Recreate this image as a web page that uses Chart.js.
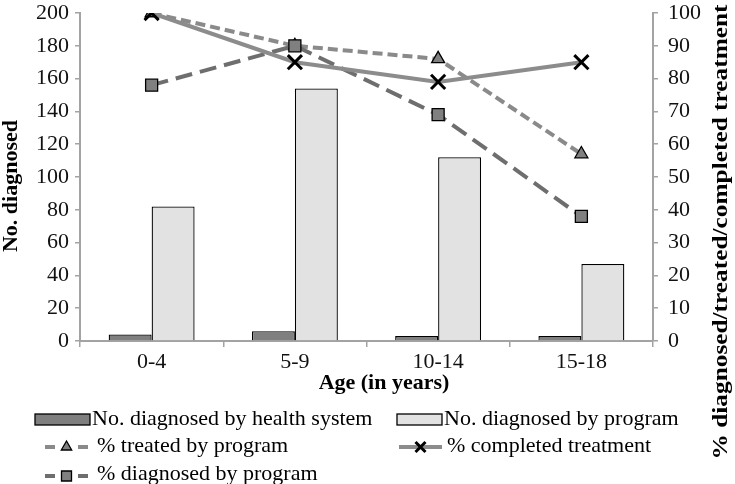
<!DOCTYPE html>
<html>
<head>
<meta charset="utf-8">
<script src="https://cdn.jsdelivr.net/npm/chart.js@4"></script>
<style>
html,body{margin:0;padding:0;background:#fff;}
#wrap{width:735px;height:484px;position:relative;}
</style>
</head>
<body>
<div id="wrap"><canvas id="c" width="735" height="484"></canvas></div>
<script>
const categories = ['0-4', '5-9', '10-14', '15-18'];
const diagnosedHealthSystem = [4, 6, 3, 3];
const diagnosedProgram = [82, 154, 112, 47];
const pctTreated = [100, 90, 86, 57];
const pctCompleted = [100, 85, 79, 85];
const pctDiagnosed = [78, 90, 69, 38];
const leftTicks = {min: 0, max: 200, step: 20};
const rightTicks = {min: 0, max: 100, step: 10};

const SERIF = '"Liberation Serif", "DejaVu Serif", serif';
const AXIS = '#a3a3a3';

const datasets = [
  {type:'bar', label:'No. diagnosed by health system', data: diagnosedHealthSystem, yAxisID:'y',
   backgroundColor:'#7f7f7f', borderColor:'#000', borderWidth:1.3, order:3,
   categoryPercentage:0.6, barPercentage:1.0},
  {type:'bar', label:'No. diagnosed by program', data: diagnosedProgram, yAxisID:'y',
   backgroundColor:'#e2e2e2', borderColor:'#000', borderWidth:1.3, order:3,
   categoryPercentage:0.6, barPercentage:1.0},
  {type:'line', label:'% treated by program', data: pctTreated, yAxisID:'y1',
   borderColor:'#8a8a8a', borderWidth:4, borderDash:[10,5], fill:false,
   pointStyle:'triangle', pointRadius:7.5, pointBackgroundColor:'#808080', pointBorderColor:'#000', pointBorderWidth:1.3, order:2},
  {type:'line', label:'% diagnosed by program', data: pctDiagnosed, yAxisID:'y1',
   borderColor:'#6e6e6e', borderWidth:4, borderDash:[17,8], fill:false,
   pointStyle:'rect', pointRadius:8.5, pointBackgroundColor:'#808080', pointBorderColor:'#000', pointBorderWidth:1.3, order:1},
  {type:'line', label:'% completed treatment', data: pctCompleted, yAxisID:'y1',
   borderColor:'#8c8c8c', borderWidth:4, fill:false,
   pointStyle:'crossRot', pointRadius:10, pointBorderColor:'#000', pointBorderWidth:3, order:0}
];

function drawIcon(ctx, ds, x1, x2, y) {
  ctx.save();
  if (ds.type === 'bar') {
    ctx.fillStyle = ds.backgroundColor; ctx.strokeStyle = ds.borderColor; ctx.lineWidth = 1.3;
    ctx.fillRect(x1, y-5.5, x2-x1, 11); ctx.strokeRect(x1, y-5.5, x2-x1, 11);
  } else {
    const cx = (x1+x2)/2;
    ctx.strokeStyle = ds.borderColor; ctx.lineWidth = ds.borderWidth;
    ctx.beginPath();
    if (ds.borderDash) {
      ctx.moveTo(x1, y); ctx.lineTo(x1+10, y);
      ctx.moveTo(x2-10, y); ctx.lineTo(x2, y);
    } else {
      ctx.moveTo(x1, y); ctx.lineTo(x2, y);
    }
    ctx.stroke();
    ctx.fillStyle = ds.pointBackgroundColor || '#000';
    ctx.strokeStyle = ds.pointBorderColor; ctx.lineWidth = ds.pointBorderWidth;
    ctx.beginPath();
    if (ds.pointStyle === 'triangle') {
      const r = 6;
      ctx.moveTo(cx, y - r); ctx.lineTo(cx + r*0.866, y + r*0.5); ctx.lineTo(cx - r*0.866, y + r*0.5); ctx.closePath(); ctx.fill(); ctx.stroke();
    } else if (ds.pointStyle === 'rect') {
      const s = 5; ctx.rect(cx-s, y-s, 2*s, 2*s); ctx.fill(); ctx.stroke();
    } else {
      const s = 5; ctx.moveTo(cx-s,y-s); ctx.lineTo(cx+s,y+s); ctx.moveTo(cx+s,y-s); ctx.lineTo(cx-s,y+s); ctx.stroke();
    }
  }
  ctx.restore();
}

const legendItems = [
  {ds:0, x1:35, x2:90, tx:92, iy:419.5, ty:425},
  {ds:1, x1:397, x2:442, tx:444, iy:419.5, ty:425},
  {ds:2, x1:45, x2:88, tx:97, iy:447, ty:452},
  {ds:4, x1:399, x2:442, tx:447, iy:447, ty:452},
  {ds:3, x1:45, x2:88, tx:97, iy:476, ty:480}
];

const extras = {
  id:'extras',
  afterDraw(chart) {
    const ctx = chart.ctx;
    ctx.save();
    ctx.fillStyle = '#000';
    ctx.textBaseline = 'alphabetic';
    ctx.textAlign = 'center';
    ctx.font = 'bold 22px ' + SERIF;
    ctx.fillText('Age (in years)', 384, 389);
    ctx.textBaseline = 'middle';
    ctx.save(); ctx.translate(11, 186); ctx.rotate(-Math.PI/2); ctx.fillText('No. diagnosed', 0, 0); ctx.restore();
    const rt = '% diagnosed/treated/completed treatment';
    const w = ctx.measureText(rt).width;
    ctx.save(); ctx.translate(721, 232); ctx.rotate(-Math.PI/2); ctx.scale(455 / w, 1); ctx.fillText(rt, 0, 0); ctx.restore();
    ctx.textAlign = 'left';
    ctx.textBaseline = 'alphabetic';
    ctx.font = '22px ' + SERIF;
    legendItems.forEach(it => {
      const ds = chart.data.datasets[it.ds];
      drawIcon(ctx, ds, it.x1, it.x2, it.iy);
      ctx.fillStyle = '#000';
      ctx.fillText(ds.label, it.tx, it.ty);
    });
    ctx.restore();
  }
};

new Chart(document.getElementById('c'), {
  data: {labels: categories, datasets: datasets},
  options: {
    responsive:false, animation:false, devicePixelRatio:1,
    layout:{padding:{top:12, bottom:0, left:0, right:0}},
    plugins:{legend:{display:false}, tooltip:{enabled:false}},
    scales:{
      x:{
        offset:true,
        grid:{display:true, drawOnChartArea:false, drawTicks:true, tickLength:6, color:AXIS, lineWidth:1.5, offset:true},
        border:{color:AXIS, width:2},
        ticks:{font:{family:SERIF, size:22}, color:'#111', padding:2},
        afterFit(s){ s.height = 143; s.paddingLeft = 0; s.paddingRight = 0; }
      },
      y:{
        position:'left', min:leftTicks.min, max:leftTicks.max,
        grid:{display:true, drawOnChartArea:false, drawTicks:true, tickLength:5, color:AXIS, lineWidth:1.5},
        border:{color:AXIS, width:2},
        ticks:{stepSize:leftTicks.step, font:{family:SERIF, size:22}, color:'#111', padding:6},
        afterFit(s){ s.width = 80; s.paddingTop = 0; s.paddingBottom = 0; }
      },
      y1:{
        position:'right', min:rightTicks.min, max:rightTicks.max,
        grid:{display:true, drawOnChartArea:false, drawTicks:true, tickLength:5, color:AXIS, lineWidth:1.5},
        border:{color:AXIS, width:2},
        ticks:{stepSize:rightTicks.step, font:{family:SERIF, size:22}, color:'#111', padding:10},
        afterFit(s){ s.width = 82; s.paddingTop = 0; s.paddingBottom = 0; }
      }
    }
  },
  plugins:[extras]
});
</script>
</body>
</html>
